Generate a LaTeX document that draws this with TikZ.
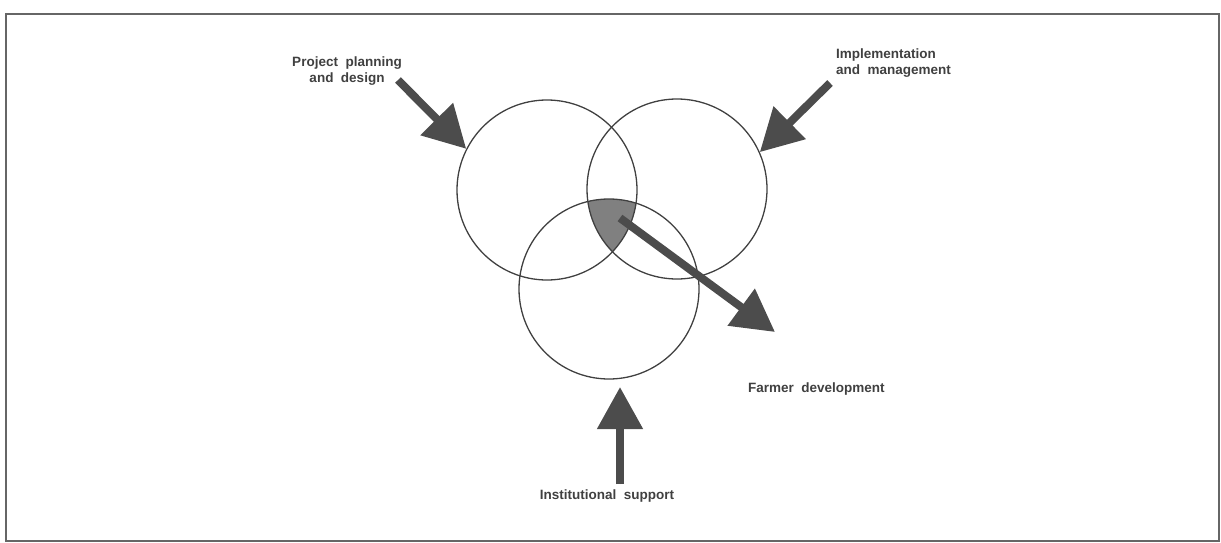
\documentclass[tikz,border=0pt]{standalone}
\usepackage{fontspec}
\setmainfont{Liberation Sans}
\usepackage{tikz}
\usetikzlibrary{calc,positioning,arrows.meta}
\tikzset{
  >={Triangle[length=42pt,width=44pt]},
  mycircle/.style={circle, draw=black!75, line width=1.3pt, minimum size=180pt, inner sep=0pt},
  mylabel/.style={font=\fontsize{13.5}{16}\selectfont\bfseries, text=black!75, inner sep=0pt},
  myarrow/.style={draw=black!70, line width=8pt, ->, fill=black!70},
}
\begin{document}
\begin{tikzpicture}[x=1pt, y={(0pt,-1pt)}]
    \useasboundingbox (0,0) rectangle (1221,543);
    % frame
    \draw[black!60, line width=2pt] (6,14) rectangle (1219,541);

    % common part of the three circles
    \begin{scope}
        \clip (547,190) circle (90pt);
        \clip (677,189) circle (90pt);
        \fill[black!50] (609,289) circle (90pt);
    \end{scope}

    \node[mycircle] (plan) at (547,190) {};
    \node[mycircle] (impl) at (677,189) {};
    \node[mycircle] (inst) at (609,289) {};

    \node[mylabel, align=center] (planlab) at (347,71) {Project\ \ planning\\and\ \ design};
    \node[mylabel, align=left, anchor=west] (impllab) at (836,63) {Implementation\\and\ \ management};
    \node[mylabel, anchor=west] (farmlab) at (748,389) {Farmer\ \ development};
    \node[mylabel] (instlab) at (607,496) {Institutional\ \ support};

    \coordinate (plantail) at (398,80);
    \coordinate (impltail) at (830,83);
    \coordinate (insttail) at (620,484);
    \coordinate (insttip) at (620,387);
    \coordinate (core) at (620,218);
    \coordinate (farmtip) at (775,332);

    \draw[myarrow] (plantail) -- (plan.153);
    \draw[myarrow] (impltail) -- (impl.24);
    \draw[myarrow] (insttail) -- (insttip);
    \draw[myarrow] (core) -- (farmtip);

\end{tikzpicture}
\end{document}
